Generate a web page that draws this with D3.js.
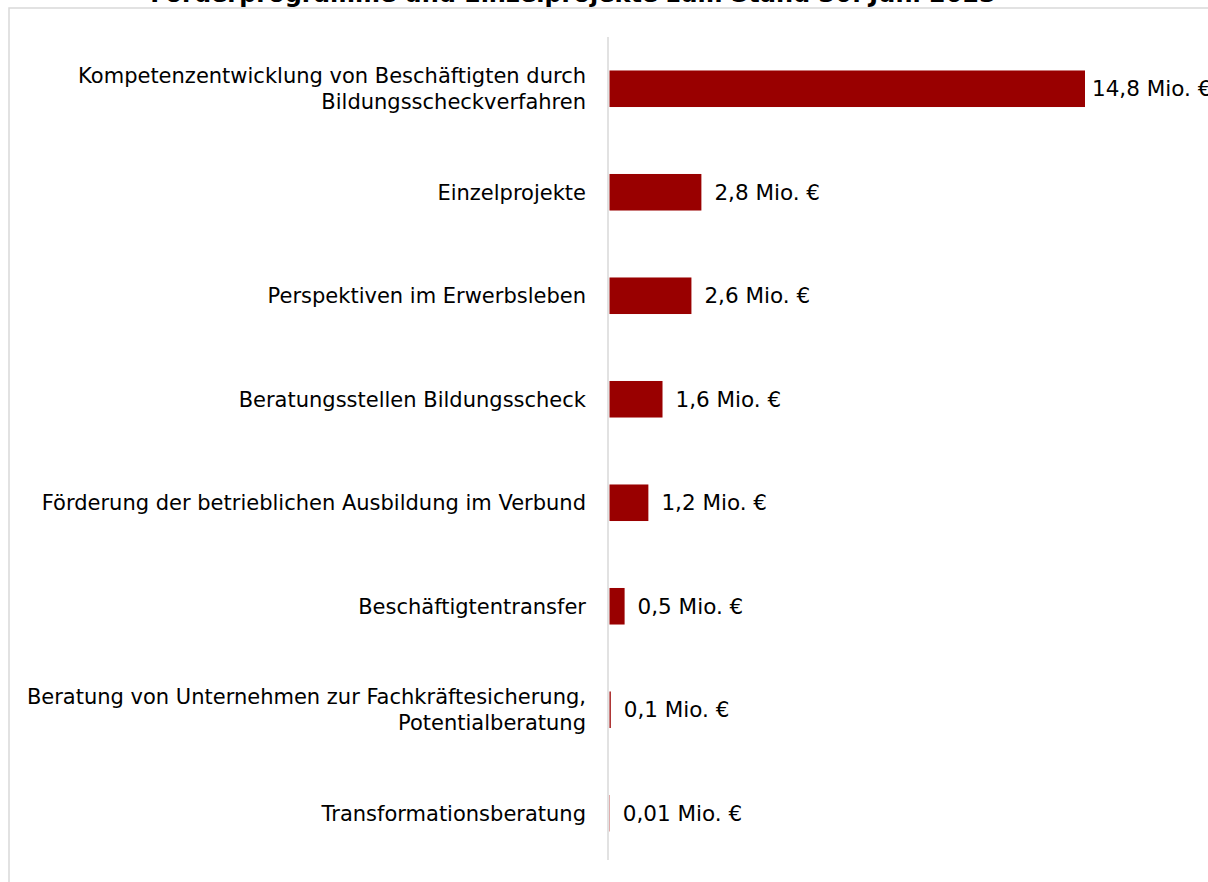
<!DOCTYPE html>
<html>
<head>
<meta charset="utf-8">
<script src="https://cdn.jsdelivr.net/npm/d3@7"></script>
<style>
  body { margin: 0; background: #fff; }
  svg { display: block; font-family: "DejaVu Sans", Verdana, sans-serif; }
</style>
</head>
<body>
<script>
// chart data
var categories = [
  ["Kompetenzentwicklung von Beschäftigten durch", "Bildungsscheckverfahren"],
  ["Einzelprojekte"],
  ["Perspektiven im Erwerbsleben"],
  ["Beratungsstellen Bildungsscheck"],
  ["Förderung der betrieblichen Ausbildung im Verbund"],
  ["Beschäftigtentransfer"],
  ["Beratung von Unternehmen zur Fachkräftesicherung,", "Potentialberatung"],
  ["Transformationsberatung"]
];
var values = [14.8, 2.86, 2.55, 1.65, 1.21, 0.47, 0.04, 0.01];
var valueLabels = ["14,8 Mio. €", "2,8 Mio. €", "2,6 Mio. €", "1,6 Mio. €",
                   "1,2 Mio. €", "0,5 Mio. €", "0,1 Mio. €", "0,01 Mio. €"];
var title = "Förderprogramme und Einzelprojekte zum Stand 30. Juni 2023";

var width = 1208, height = 882;
var svg = d3.select("body").append("svg").attr("width", width).attr("height", height);

// outer frame (runs off the right and bottom edge)
svg.append("rect")
  .attr("x", 9).attr("y", 8)
  .attr("width", 1220).attr("height", 900)
  .attr("fill", "none")
  .attr("stroke", "#d9d9d9")
  .attr("stroke-width", 1.5);

// title, mostly cut off at the top
svg.append("text")
  .attr("x", 573).attr("y", 2)
  .attr("text-anchor", "middle")
  .style("font-weight", "bold")
  .style("font-size", "24px")
  .attr("fill", "#000")
  .text(title);

var x0 = 609.5;
var x = d3.scaleLinear().domain([0, 14.8]).range([x0, 1085]);
var y = d3.scaleBand()
  .domain(d3.range(categories.length))
  .range([37, 865])
  .paddingInner(0.647)
  .paddingOuter(0.3235);

// bars
svg.selectAll("rect.bar")
  .data(values)
  .enter().append("rect")
  .attr("class", "bar")
  .attr("x", x0)
  .attr("y", function(d, i) { return y(i); })
  .attr("width", function(d) { return x(d) - x0; })
  .attr("height", y.bandwidth())
  .attr("fill", "#990000");

// category axis line
svg.append("line")
  .attr("x1", 608).attr("x2", 608)
  .attr("y1", 37).attr("y2", 860)
  .attr("stroke", "#d9d9d9")
  .attr("stroke-width", 1.5);

// category labels
var lineH = 26;
var catText = svg.selectAll("text.cat")
  .data(categories)
  .enter().append("text")
  .attr("class", "cat")
  .attr("text-anchor", "end")
  .style("font-size", "21px")
  .attr("fill", "#000");
catText.each(function(lines, i) {
  var cy = y(i) + y.bandwidth() / 2;
  var top = cy - (lines.length - 1) * lineH / 2;
  d3.select(this).selectAll("tspan")
    .data(lines)
    .enter().append("tspan")
    .attr("x", 586)
    .attr("y", function(d, j) { return top + j * lineH; })
    .attr("dy", "0.35em")
    .text(function(d) { return d; });
});

// value labels (pulled in a bit when they would run too far right, like excel does)
svg.selectAll("text.val")
  .data(values)
  .enter().append("text")
  .attr("class", "val")
  .attr("x", function(d) { return Math.min(x(d) + 13, 1092); })
  .attr("y", function(d, i) { return y(i) + y.bandwidth() / 2; })
  .attr("dy", "0.35em")
  .style("font-size", "21.5px")
  .attr("fill", "#000")
  .text(function(d, i) { return valueLabels[i]; });
</script>
</body>
</html>
